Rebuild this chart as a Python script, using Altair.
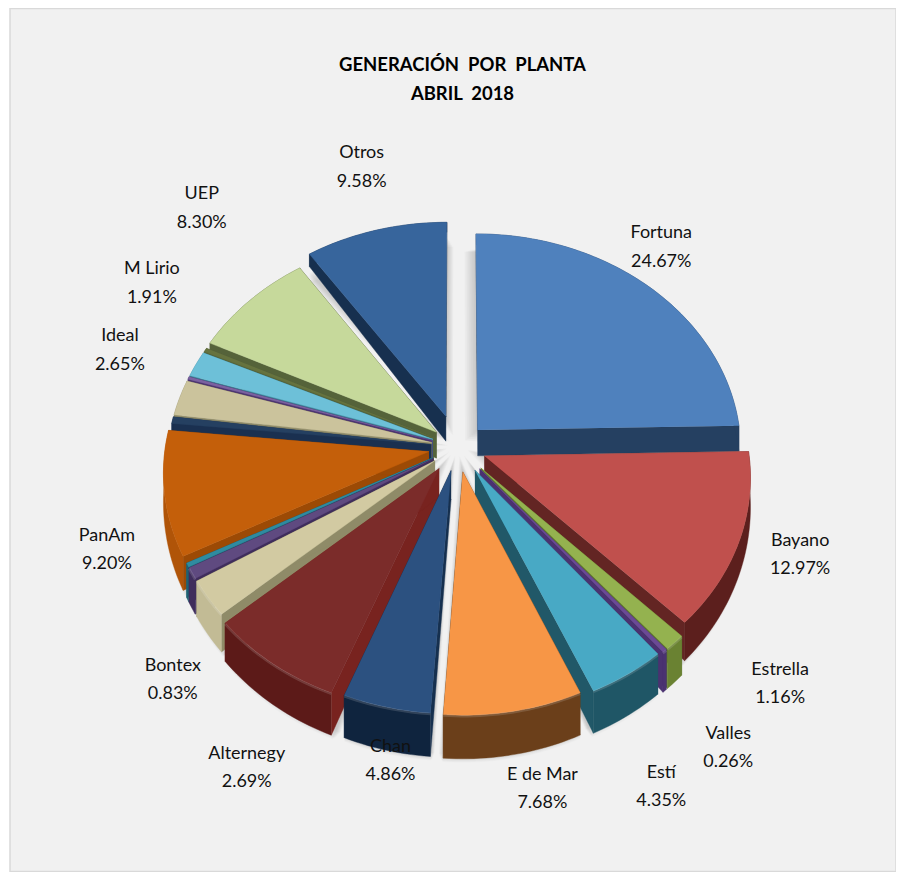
import math
import altair as alt
import pandas as pd

# values, clockwise from 12 o'clock
slices = ["Fortuna","Bayano","Estrella","Valles","Estí","E de Mar","Chan","s8","Alternegy","Bontex","s11","PanAm","s13","Ideal","s15","M Lirio","s17","UEP","Otros"]
shares = [24.67,12.97,1.16,0.26,4.35,7.68,4.86,7.60,2.69,0.83,0.30,9.20,0.50,2.65,0.20,1.91,0.29,8.30,9.58]
# styling
top_colors = ["#4f81bd","#c0504d","#94b24f","#6b4a95","#48a9c5","#f79646","#2c5180","#7b2c2a","#d2caa2","#5f4a80","#2f8ba0","#c45f0a","#254061","#cbc39c","#7b62a0","#6dc0d8","#66733f","#c6d99b","#37659c"]
radial_walls = ["#254061","#632523","#5e7530","#4a3270","#215868","#6b3f1a","#16304f","#78231f","#8f8b68","#3f2d5c","#1f6273","#9c4a05","#1a3050","#8f8b68","#4a3270","#3f8598","#55633a","#55633a","#17304f"]
outer_walls = ["#254061","#5c1f1d","#6a8232","#4a3270","#1f5666","#6b3f1a","#0f243e","#5c1a18","#c2bb95","#3f2d5c","#1f6273","#b05408","#1a3050","#8f8b68","#4a3270","#3f8598","#55633a","#55633a","#17304f"]
explode = [0.11,0.11,0.13,0.13,0.125,0.115,0.11,0.12,0.105,0.105,0.105,0.11,0.10,0.10,0.10,0.10,0.10,0.105,0.15]

label_names = ["Otros","UEP","M Lirio","Ideal","PanAm","Bontex","Alternegy","Chan","E de Mar","Estí","Valles","Estrella","Bayano","Fortuna"]
label_pcts = ["9.58%","8.30%","1.91%","2.65%","9.20%","0.83%","2.69%","4.86%","7.68%","4.35%","0.26%","1.16%","12.97%","24.67%"]
label_x = [362,202,152,120,107,173,247,391,543,662,729,781,801,662]
label_y = [153,194,269,336,536,666,754,747,775,773,734,670,541,233]
title_lines = ["GENERACIÓN \u00a0POR \u00a0PLANTA","ABRIL \u00a02018"]
title_y = [65,94]

cx, cy, R, b, a = 458, 447, 264, 217, 0.09

def proj(X, Y):
    s = 1/(1-a*Y)
    return cx+R*X*s, cy+b*Y*s

def depth(Y):
    return max(27+15*Y, 5)

polys = []
rims = []
pid = 0
def add(points, fill, op=1.0):
    global pid
    pid += 1
    for i, (x, y) in enumerate(points):
        polys.append(dict(poly=pid, seq=i, x=x, y=y, fill=fill, op=op))

geo = []
cum = 0
for i, v in enumerate(shares):
    t0, t1 = cum/100*2*math.pi, (cum+v)/100*2*math.pi
    cum += v
    m = (t0+t1)/2
    ox, oy = explode[i]*math.sin(m), -explode[i]*math.cos(m)
    n = max(3, int(v*3))
    arc = [(ox+math.sin(t0+(t1-t0)*k/n), oy-math.cos(t0+(t1-t0)*k/n)) for k in range(n+1)]
    geo.append((i, m, ox, oy, arc, t0, t1))

# soft shadow underneath
for lvl, grow in [(0.4,1.035),(0.5,1.03),(0.6,1.025),(0.7,1.02),(0.8,1.012),(0.9,1.005)]:
    for i, m, ox, oy, arc, t0, t1 in geo:
        if shares[i] < 2:
            continue
        k = lvl
        pts = [proj(ox*k, oy*k)]
        for X, Y in arc:
            px = ox*k+(X-ox)*grow
            py = oy*k+(Y-oy)*grow
            x, y = proj(px, py)
            pts.append((x, y+depth(py)+5))
        add(pts, "#000000", 0.022)

for i, m, ox, oy, arc, t0, t1 in sorted(geo, key=lambda g: -math.cos(g[1])):
    ap = (ox, oy)
    pa = proj(*ap)
    da = depth(oy)
    # radial walls
    for e in (arc[0], arc[-1]):
        pe = proj(*e)
        de = depth(e[1])
        add([pa, pe, (pe[0], pe[1]+de), (pa[0], pa[1]+da)], radial_walls[i])
    # outer wall
    pts = [proj(*p) for p in arc]
    low = [(x, y+depth(p[1])) for (x, y), p in zip(pts, arc)]
    add(pts+low[::-1], outer_walls[i])
    # top
    add([pa]+pts, top_colors[i])
    if -math.cos(m) > 0.5:
        for j, (x, y) in enumerate(pts):
            rims.append(dict(poly=i, seq=j, x=x, y=y+1))

df = pd.DataFrame(polys)
rim = pd.DataFrame(rims)
xs = alt.Scale(domain=[10,897], nice=False, zero=False)
ys = alt.Scale(domain=[872,8], nice=False, zero=False)
X = alt.X("x:Q", scale=xs, axis=None)
Y = alt.Y("y:Q", scale=ys, axis=None)

faces = alt.Chart(df).mark_line(strokeWidth=0.4, interpolate="linear").encode(
    x=X, y=Y,
    detail="poly:N",
    order="seq:Q",
    fill=alt.Fill("fill:N", scale=None),
    stroke=alt.Stroke("fill:N", scale=None),
    opacity=alt.Opacity("op:Q", scale=None),
)
rimline = alt.Chart(rim).mark_line(stroke="white", strokeOpacity=0.14, strokeWidth=2.5).encode(
    x=X, y=Y, detail="poly:N", order="seq:Q")

lab = pd.DataFrame(dict(x=label_x*2, y=label_y+[v+28.5 for v in label_y], t=label_names+label_pcts))
labels = alt.Chart(lab).mark_text(font="Lato", fontSize=18, color="#111111", baseline="middle").encode(x=X, y=Y, text="t:N")
tit = pd.DataFrame(dict(x=[463,463], y=title_y, t=title_lines))
title = alt.Chart(tit).mark_text(font="Lato", fontSize=18.5, fontWeight="bold", color="#000000", baseline="middle").encode(x=X, y=Y, text="t:N")

chart = alt.layer(faces, rimline, labels, title).properties(
    width=887, height=864,
    padding={"left":2,"top":0,"right":0,"bottom":0},
    background="white",
    autosize=alt.AutoSizeParams(type="none"),
).configure_view(fill="#f1f1f1", stroke="#d9d9d9", strokeWidth=1.5)
chart.save("out.html", embed_options={"renderer": "svg", "actions": False})
